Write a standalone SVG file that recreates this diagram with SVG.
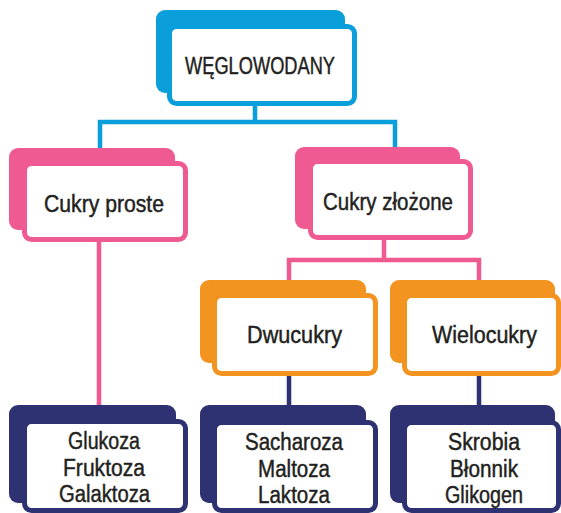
<svg xmlns="http://www.w3.org/2000/svg" width="561" height="513" viewBox="0 0 561 513">
<style>
.t{font-family:"Liberation Sans Narrow","Liberation Sans",Arial,sans-serif;font-size:23px;fill:#231f20;stroke:#231f20;stroke-width:0.45;text-anchor:middle}
.fr{fill:#ffffff;stroke-width:5}
.blue .bk{fill:#0a9fda}.blue .fr{stroke:#0a9fda}
.pink .bk{fill:#ef5a93}.pink .fr{stroke:#ef5a93}
.orange .bk{fill:#f39320}.orange .fr{stroke:#f39320}
.navy .bk{fill:#2f3272}.navy .fr{stroke:#2f3272}
.c{fill:none;stroke-width:4.5}
</style>
<g id="connectors">
<path class="c" stroke="#0a9fda" d="M255,104 V122 H100 V150 M255,122 H395 V150"/>
<path class="c" stroke="#ef5a93" d="M99,240 V407"/>
<path class="c" stroke="#ef5a93" d="M384,238 V260 H289 V282 M384,260 H479 V282"/>
<path class="c" stroke="#2f3272" d="M289,374 V407 M479,374 V407"/>
</g>
<g id="weglowodany" class="blue">
<rect class="bk" x="156" y="10" width="189" height="83" rx="9"/>
<rect class="fr" x="169.5" y="26.5" width="185" height="77" rx="7"/>
<text class="t" x="260" y="74" textLength="150" lengthAdjust="spacingAndGlyphs">WĘGLOWODANY</text>
</g>
<g id="cukry-proste" class="pink">
<rect class="bk" x="9" y="148" width="166" height="82" rx="9"/>
<rect class="fr" x="24.5" y="163.5" width="161" height="76" rx="7"/>
<text class="t" x="104" y="212" textLength="120" lengthAdjust="spacingAndGlyphs">Cukry proste</text>
</g>
<g id="cukry-zlozone" class="pink">
<rect class="bk" x="295" y="147" width="165" height="82" rx="9"/>
<rect class="fr" x="310.5" y="161.5" width="160" height="76" rx="7"/>
<text class="t" x="388" y="210" textLength="130" lengthAdjust="spacingAndGlyphs">Cukry złożone</text>
</g>
<g id="dwucukry" class="orange">
<rect class="bk" x="200" y="280" width="166" height="83" rx="9"/>
<rect class="fr" x="214.5" y="295.5" width="161" height="78" rx="7"/>
<text class="t" x="294.5" y="343" textLength="95" lengthAdjust="spacingAndGlyphs">Dwucukry</text>
</g>
<g id="wielocukry" class="orange">
<rect class="bk" x="390" y="280" width="165" height="83" rx="9"/>
<rect class="fr" x="404.5" y="295.5" width="154" height="78" rx="7"/>
<text class="t" x="484.5" y="343" textLength="105" lengthAdjust="spacingAndGlyphs">Wielocukry</text>
</g>
<g id="monosacharydy" class="navy">
<rect class="bk" x="9" y="405" width="167" height="98" rx="9"/>
<rect class="fr" x="24.5" y="421.5" width="161" height="89" rx="7"/>
<text class="t" x="104" y="449" textLength="72" lengthAdjust="spacingAndGlyphs">Glukoza</text>
<text class="t" x="104" y="476" textLength="82" lengthAdjust="spacingAndGlyphs">Fruktoza</text>
<text class="t" x="104.5" y="502" textLength="91" lengthAdjust="spacingAndGlyphs">Galaktoza</text>
</g>
<g id="disacharydy" class="navy">
<rect class="bk" x="200" y="405" width="166" height="98" rx="9"/>
<rect class="fr" x="214.5" y="422.5" width="161" height="88" rx="7"/>
<text class="t" x="294" y="450" textLength="98" lengthAdjust="spacingAndGlyphs">Sacharoza</text>
<text class="t" x="294" y="477" textLength="72" lengthAdjust="spacingAndGlyphs">Maltoza</text>
<text class="t" x="294" y="503" textLength="72" lengthAdjust="spacingAndGlyphs">Laktoza</text>
</g>
<g id="polisacharydy" class="navy">
<rect class="bk" x="390" y="405" width="165" height="98" rx="9"/>
<rect class="fr" x="404.5" y="422.5" width="154" height="88" rx="7"/>
<text class="t" x="484" y="450" textLength="72" lengthAdjust="spacingAndGlyphs">Skrobia</text>
<text class="t" x="484" y="477" textLength="68" lengthAdjust="spacingAndGlyphs">Błonnik</text>
<text class="t" x="484" y="503" textLength="78" lengthAdjust="spacingAndGlyphs">Glikogen</text>
</g>
</svg>
